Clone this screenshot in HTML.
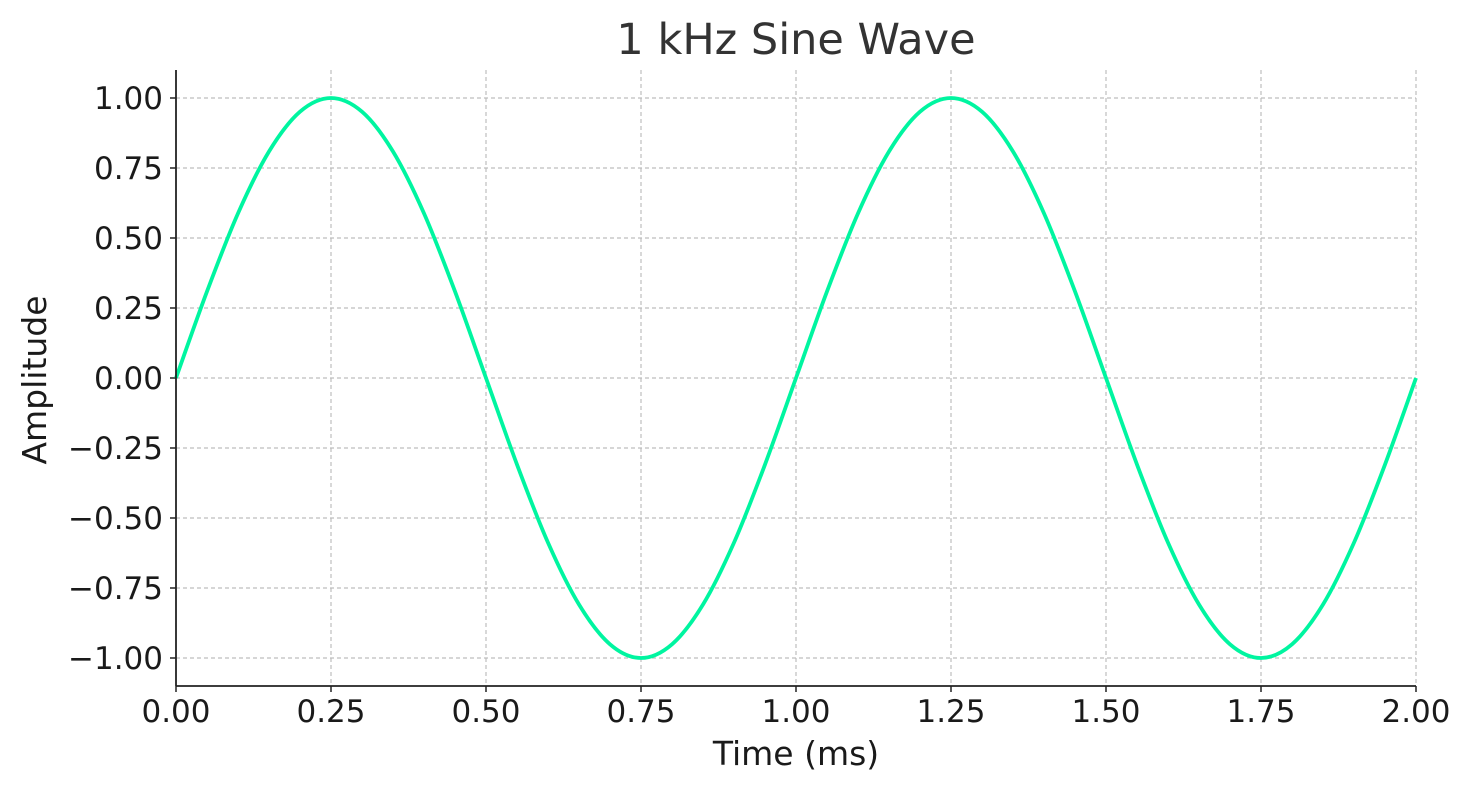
<!DOCTYPE html>
<html><head><meta charset="utf-8"><style>
body{margin:0;background:#fff;}
svg text{font-family:"DejaVu Sans","Liberation Sans",sans-serif;fill:#1a1a1a;}
</style></head><body>
<svg width="1473" height="793" viewBox="0 0 1473 793" xmlns="http://www.w3.org/2000/svg">
<rect width="1473" height="793" fill="#fff"/>
<text x="796" y="54" text-anchor="middle" font-size="43" fill="#333" style="fill:#333">1 kHz Sine Wave</text>
<g id="grid"></g>
<g id="ticks"></g>
<path id="wave" fill="none" stroke="#00F5A0" stroke-width="3.8" stroke-linejoin="round"/>
<line x1="176" y1="70" x2="176" y2="686" stroke="#222" stroke-width="1.8"/>
<line x1="176" y1="686" x2="1416" y2="686" stroke="#222" stroke-width="1.8"/>
<text x="796" y="765" text-anchor="middle" font-size="33">Time (ms)</text>
<text transform="translate(46,380) rotate(-90)" text-anchor="middle" font-size="33">Amplitude</text>
</svg>
<script>
const timeMs=[0,0.05,0.1,0.15,0.2,0.25,0.3,0.35,0.4,0.45,0.5,0.55,0.6,0.65,0.7,0.75,0.8,0.85,0.9,0.95,1,1.05,1.1,1.15,1.2,1.25,1.3,1.35,1.4,1.45,1.5,1.55,1.6,1.65,1.7,1.75,1.8,1.85,1.9,1.95,2];
const amplitude=[0,0.309,0.588,0.809,0.951,1,0.951,0.809,0.588,0.309,0,-0.309,-0.588,-0.809,-0.951,-1,-0.951,-0.809,-0.588,-0.309,0,0.309,0.588,0.809,0.951,1,0.951,0.809,0.588,0.309,0,-0.309,-0.588,-0.809,-0.951,-1,-0.951,-0.809,-0.588,-0.309,0];
const xTicks=[0,0.25,0.5,0.75,1,1.25,1.5,1.75,2];
const xTickLabels=["0.00","0.25","0.50","0.75","1.00","1.25","1.50","1.75","2.00"];
const yTicks=[1,0.75,0.5,0.25,0,-0.25,-0.5,-0.75,-1];
const yTickLabels=["1.00","0.75","0.50","0.25","0.00","\u22120.25","\u22120.50","\u22120.75","\u22121.00"];
const X=v=>176+(v-0)/(2-0)*1240;
const Y=v=>378-v*280;
const NS="http://www.w3.org/2000/svg";
const grid=document.getElementById('grid'),ticks=document.getElementById('ticks');
function mk(tag,attrs,parent){const e=document.createElementNS(NS,tag);for(const k in attrs)e.setAttribute(k,attrs[k]);parent.appendChild(e);return e;}
xTicks.forEach((t,i)=>{
  const g=mk('line',{x1:X(t),x2:X(t),y1:70,y2:686,stroke:'#bdbdbd','stroke-width':1.2,'stroke-dasharray':'4,3'},grid);
  
  
  const tk=mk('line',{x1:X(t),x2:X(t),y1:686,y2:692,stroke:'#222','stroke-width':1.5},ticks);
  
  
  const tx=mk('text',{x:X(t),y:722,'text-anchor':'middle','font-size':31},ticks);
  tx.textContent=xTickLabels[i];
  
  
});
yTicks.forEach((t,i)=>{
  const g=mk('line',{x1:176,x2:1416,y1:Y(t),y2:Y(t),stroke:'#bdbdbd','stroke-width':1.2,'stroke-dasharray':'4,3'},grid);
  
  
  const tk=mk('line',{x1:170,x2:176,y1:Y(t),y2:Y(t),stroke:'#222','stroke-width':1.5},ticks);
  
  
  const tx=mk('text',{x:163,y:Y(t)+11,'text-anchor':'end','font-size':31},ticks);
  tx.textContent=yTickLabels[i];
  
  
});
const P=timeMs.map((t,i)=>[X(t),Y(amplitude[i])]);
let d='M'+P[0][0]+','+P[0][1];
for(let i=0;i<P.length-1;i++){
  const p0=P[Math.max(0,i-1)],p1=P[i],p2=P[i+1],p3=P[Math.min(P.length-1,i+2)];
  const c1=[p1[0]+(p2[0]-p0[0])/6,p1[1]+(p2[1]-p0[1])/6];
  const c2=[p2[0]-(p3[0]-p1[0])/6,p2[1]-(p3[1]-p1[1])/6];
  d+=' C'+c1[0]+','+c1[1]+' '+c2[0]+','+c2[1]+' '+p2[0]+','+p2[1];
}
document.getElementById('wave').setAttribute('d',d);
</script>
</body></html>
